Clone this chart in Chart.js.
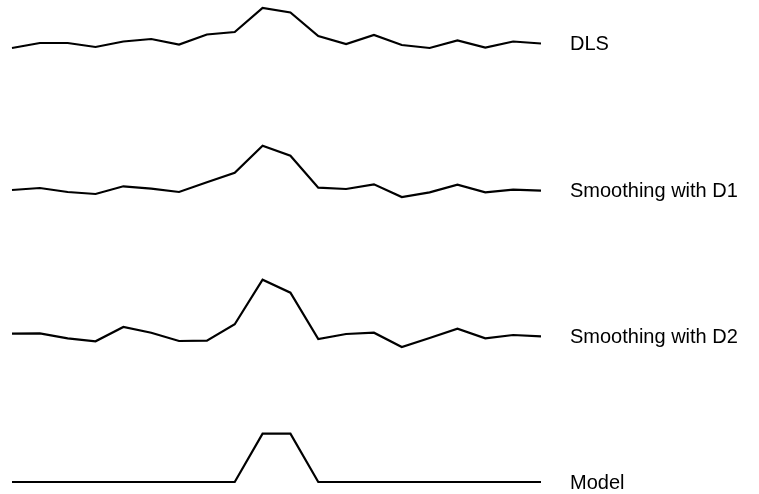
<!DOCTYPE html>
<html>
<head>
<meta charset="utf-8">
<script src="https://cdn.jsdelivr.net/npm/chart.js@4"></script>
<style>
  html, body { margin: 0; padding: 0; background: #fff; }
  #wrap { width: 759px; height: 494px; }
</style>
</head>
<body>
<div id="wrap"><canvas id="chart"></canvas></div>
<script>
const labels = ["1","2","3","4","5","6","7","8","9","10","11","12","13","14","15","16","17","18","19","20"];
const seriesNames = ["DLS", "Smoothing with D1", "Smoothing with D2", "Model"];

// values read above each trace's own baseline
const dls = [0, 5, 5, 1, 6.5, 9, 3.5, 13.5, 16, 40, 35.5, 12, 4, 13, 3, 0, 7.5, 0.5, 6.5, 4.5];
const d1 = [7, 9, 5, 3, 10.7, 8.3, 5, 14.7, 24.3, 51.3, 41.3, 9.3, 8, 12.7, 0, 4.7, 12.3, 4.7, 7.3, 6.3];
const d2 = [13.3, 13.7, 8.7, 5.7, 20, 14.3, 6, 6.3, 22.7, 67.3, 54.3, 8, 13, 14.3, 0, 9, 18.3, 8.7, 12, 10.7];
const model = [0, 0, 0, 0, 0, 0, 0, 0, 0, 48.3, 48.3, 0, 0, 0, 0, 0, 0, 0, 0, 0];

// vertical offset of each trace on the shared axis
const offsets = [446, 297, 147, 12];

const allSeries = [dls, d1, d2, model];

const datasets = allSeries.map((vals, i) => ({
  label: seriesNames[i],
  data: vals.map((v) => v + offsets[i]),
  borderColor: "#000",
  borderWidth: 2.2,
  pointRadius: 0,
  tension: 0,
  fill: false,
}));

const endLabels = {
  id: "endLabels",
  afterDatasetsDraw(chart) {
    const ctx = chart.ctx;
    ctx.save();
    ctx.fillStyle = "#000";
    ctx.font = "20px 'Liberation Sans', Arial, sans-serif";
    ctx.textBaseline = "middle";
    ctx.textAlign = "left";
    chart.data.datasets.forEach((ds, i) => {
      const meta = chart.getDatasetMeta(i);
      const last = meta.data[meta.data.length - 1];
      ctx.fillText(ds.label, 570, last.y + 1);
    });
    ctx.restore();
  },
};

new Chart(document.getElementById("chart"), {
  type: "line",
  data: { labels, datasets },
  options: {
    responsive: true,
    maintainAspectRatio: false,
    animation: false,
    layout: { padding: { left: 12, right: 218, top: 0, bottom: 0 } },
    plugins: { legend: { display: false }, tooltip: { enabled: false } },
    scales: {
      x: { display: false, offset: false },
      y: { display: false, min: 0, max: 494 },
    },
  },
  plugins: [endLabels],
});
</script>
</body>
</html>
